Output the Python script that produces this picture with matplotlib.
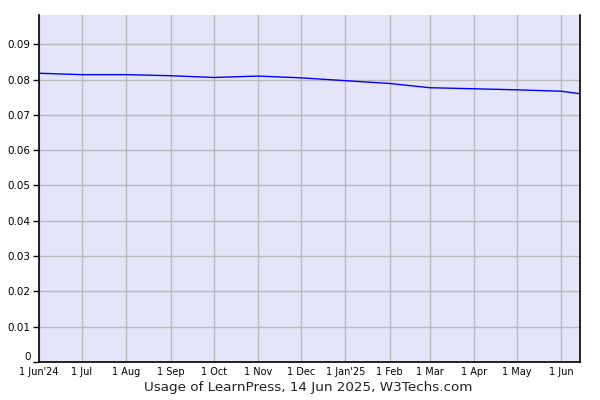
import matplotlib
matplotlib.use("Agg")
import matplotlib.pyplot as plt
from datetime import date

# usage share (fraction)
dates = [date(2024, 6, 1), date(2024, 7, 1), date(2024, 8, 1), date(2024, 9, 1),
         date(2024, 10, 1), date(2024, 11, 1), date(2024, 12, 1), date(2025, 1, 1),
         date(2025, 2, 1), date(2025, 3, 1), date(2025, 4, 1), date(2025, 5, 1),
         date(2025, 6, 1), date(2025, 6, 14)]
usage = [0.0818, 0.0814, 0.0814, 0.0811, 0.0806, 0.0810, 0.0805, 0.0797,
         0.0789, 0.0777, 0.0774, 0.0771, 0.0767, 0.0760]

tick_dates = [date(2024, 6, 1), date(2024, 7, 1), date(2024, 8, 1), date(2024, 9, 1),
              date(2024, 10, 1), date(2024, 11, 1), date(2024, 12, 1), date(2025, 1, 1),
              date(2025, 2, 1), date(2025, 3, 1), date(2025, 4, 1), date(2025, 5, 1),
              date(2025, 6, 1)]
tick_labels = ["1 Jun'24", "1 Jul", "1 Aug", "1 Sep", "1 Oct", "1 Nov", "1 Dec",
               "1 Jan'25", "1 Feb", "1 Mar", "1 Apr", "1 May", "1 Jun"]
y_ticks = [0, 0.01, 0.02, 0.03, 0.04, 0.05, 0.06, 0.07, 0.08, 0.09]
y_labels = ["0", "0.01", "0.02", "0.03", "0.04", "0.05", "0.06", "0.07", "0.08", "0.09"]

fig = plt.figure(figsize=(6, 4), dpi=100)
ax = fig.add_axes([39 / 600, 38 / 400, 541 / 600, 347 / 400])
ax.set_facecolor("#e5e5f9")

ax.plot(dates, usage, color="#0000ff", lw=1, zorder=3)

ax.set_xlim(date(2024, 6, 1), date(2025, 6, 14))
ax.set_ylim(0, 0.0983)

ax.set_xticks(tick_dates)
ax.set_xticklabels(tick_labels, fontsize=7)
ax.set_yticks(y_ticks)
ax.set_yticklabels(y_labels, fontsize=7.5)

# "0" sits a little above its tick so it clears the first date label
ax.get_yticklabels()[0].set_verticalalignment("bottom")

ax.grid(True, color="#bbbbbb", lw=1, zorder=1)
ax.set_axisbelow(True)

ax.tick_params(axis="x", length=0, pad=3.5)
ax.tick_params(axis="y", length=4, width=1, pad=2, color="black")

ax.spines["top"].set_visible(False)
for s in ["left", "bottom", "right"]:
    ax.spines[s].set_color("black")
    ax.spines[s].set_linewidth(1.2)

fig.text(308 / 600, 13 / 400, "Usage of LearnPress, 14 Jun 2025, W3Techs.com",
         ha="center", va="center", fontsize=9.7, color="#222222")

fig.savefig("out.png", dpi=100)
